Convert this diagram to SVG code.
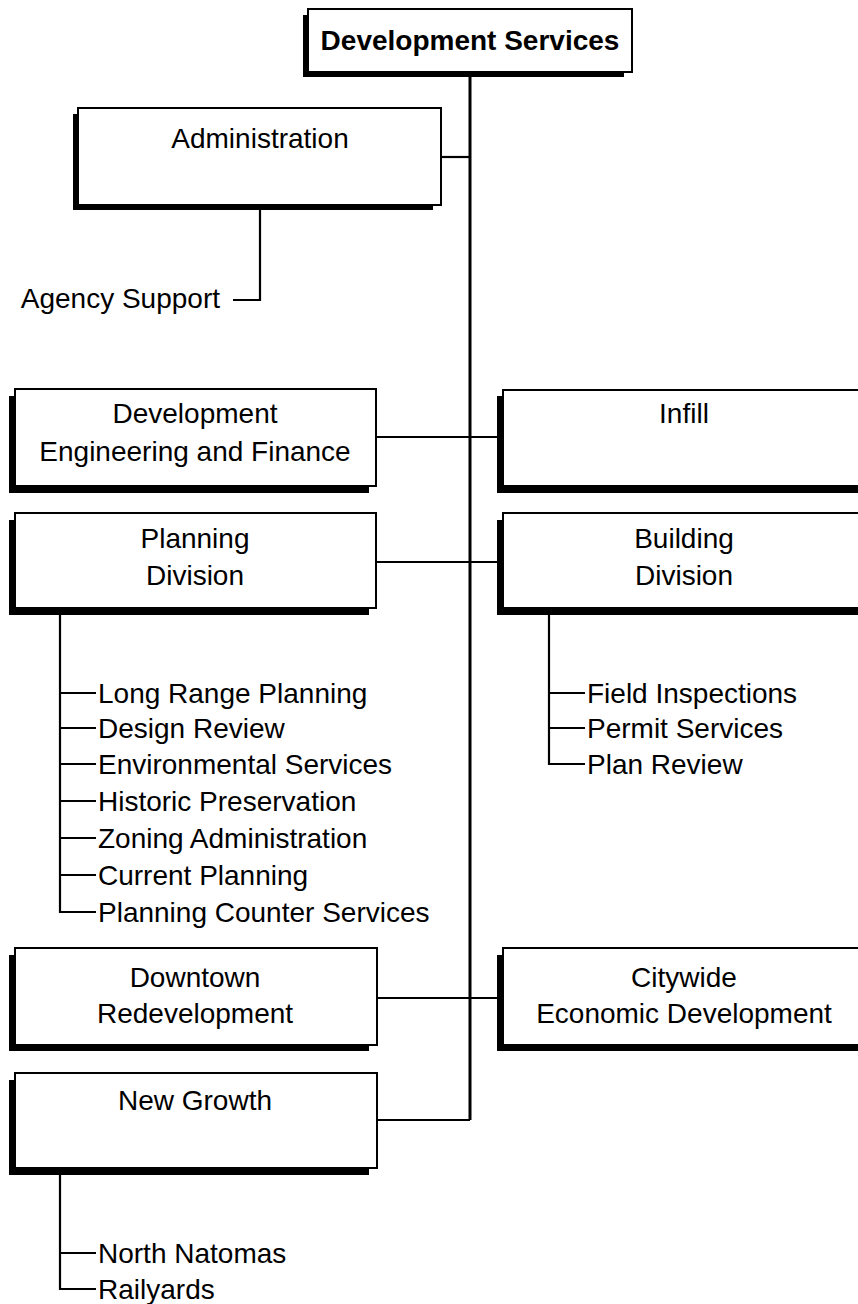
<svg xmlns="http://www.w3.org/2000/svg" width="858" height="1304" viewBox="0 0 858 1304">
<style>
.sh{fill:#000}
.bx{fill:#fff;stroke:#000;stroke-width:2}
.t{font-family:"Liberation Sans",Arial,sans-serif;font-size:28px;fill:#000}
.c{text-anchor:middle}
.b{font-weight:bold}
.ln{fill:none;stroke:#000;stroke-width:2.2}
.main{fill:none;stroke:#000;stroke-width:3}
</style>
<rect width="858" height="1304" fill="#fff"/>
<g id="connectors">
<path class="main" d="M470 72V1120"/>
<path class="ln" d="M441 157H470"/>
<path class="ln" d="M260 205V300H233"/>
<path class="ln" d="M376 437H503"/>
<path class="ln" d="M376 562H503"/>
<path class="ln" d="M376 998H503"/>
<path class="ln" d="M377 1120H470"/>
<path class="ln" d="M60 608V912H96M60 693H96M60 728H96M60 764H96M60 801H96M60 838H96M60 875H96"/>
<path class="ln" d="M549 608V764H585M549 693H585M549 728H585"/>
<path class="ln" d="M60 1168V1289H96M60 1253H96"/>
</g>
<g id="n-dev-services">
<rect class="sh" x="303" y="15" width="321" height="62"/>
<rect class="bx" x="308" y="9" width="324" height="63"/>
<text class="t c b" x="470" y="50">Development Services</text>
</g>
<g id="n-administration">
<rect class="sh" x="73" y="114" width="360" height="96"/>
<rect class="bx" x="78" y="108" width="363" height="97"/>
<text class="t c" x="260" y="148">Administration</text>
</g>
<g id="n-agency-support">
<text class="t" x="220" y="308" text-anchor="end">Agency Support</text>
</g>
<g id="n-dev-eng">
<rect class="sh" x="9" y="396" width="360" height="97"/>
<rect class="bx" x="15" y="389" width="361" height="97"/>
<text class="t c" x="195" y="423">Development</text>
<text class="t c" x="195" y="461">Engineering and Finance</text>
</g>
<g id="n-infill">
<rect class="sh" x="497" y="396" width="370" height="97"/>
<rect class="bx" x="503" y="390" width="370" height="96"/>
<text class="t c" x="684" y="423">Infill</text>
</g>
<g id="n-planning">
<rect class="sh" x="9" y="520" width="360" height="95"/>
<rect class="bx" x="15" y="513" width="361" height="95"/>
<text class="t c" x="195" y="548">Planning</text>
<text class="t c" x="195" y="585">Division</text>
</g>
<g id="n-building">
<rect class="sh" x="497" y="520" width="370" height="95"/>
<rect class="bx" x="503" y="513" width="370" height="95"/>
<text class="t c" x="684" y="548">Building</text>
<text class="t c" x="684" y="585">Division</text>
</g>
<g id="n-planning-items">
<text class="t" x="98" y="703">Long Range Planning</text>
<text class="t" x="98" y="738">Design Review</text>
<text class="t" x="98" y="774">Environmental Services</text>
<text class="t" x="98" y="811">Historic Preservation</text>
<text class="t" x="98" y="848">Zoning Administration</text>
<text class="t" x="98" y="885">Current Planning</text>
<text class="t" x="98" y="922">Planning Counter Services</text>
</g>
<g id="n-building-items">
<text class="t" x="587" y="703">Field Inspections</text>
<text class="t" x="587" y="738">Permit Services</text>
<text class="t" x="587" y="774">Plan Review</text>
</g>
<g id="n-downtown">
<rect class="sh" x="9" y="955" width="360" height="96"/>
<rect class="bx" x="15" y="948" width="362" height="97"/>
<text class="t c" x="195" y="987">Downtown</text>
<text class="t c" x="195" y="1023">Redevelopment</text>
</g>
<g id="n-citywide">
<rect class="sh" x="497" y="955" width="370" height="96"/>
<rect class="bx" x="503" y="948" width="370" height="97"/>
<text class="t c" x="684" y="987">Citywide</text>
<text class="t c" x="684" y="1023">Economic Development</text>
</g>
<g id="n-new-growth">
<rect class="sh" x="9" y="1080" width="360" height="95"/>
<rect class="bx" x="15" y="1073" width="362" height="95"/>
<text class="t c" x="195" y="1110">New Growth</text>
</g>
<g id="n-new-growth-items">
<text class="t" x="98" y="1263">North Natomas</text>
<text class="t" x="98" y="1299">Railyards</text>
</g>
</svg>
